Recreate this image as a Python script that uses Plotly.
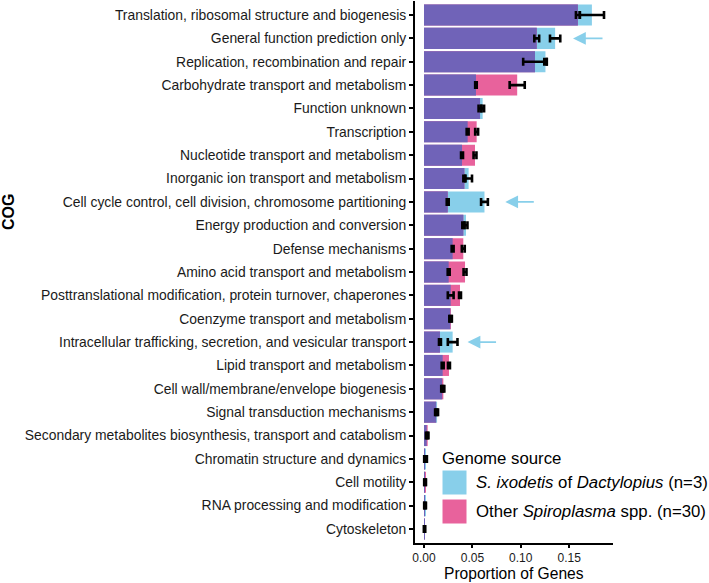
import numpy as np
import plotly.graph_objects as go

# COG categories, top to bottom
cog = [
    "Translation, ribosomal structure and biogenesis",
    "General function prediction only",
    "Replication, recombination and repair",
    "Carbohydrate transport and metabolism",
    "Function unknown",
    "Transcription",
    "Nucleotide transport and metabolism",
    "Inorganic ion transport and metabolism",
    "Cell cycle control, cell division, chromosome partitioning",
    "Energy production and conversion",
    "Defense mechanisms",
    "Amino acid transport and metabolism",
    "Posttranslational modification, protein turnover, chaperones",
    "Coenzyme transport and metabolism",
    "Intracellular trafficking, secretion, and vesicular transport",
    "Lipid transport and metabolism",
    "Cell wall/membrane/envelope biogenesis",
    "Signal transduction mechanisms",
    "Secondary metabolites biosynthesis, transport and catabolism",
    "Chromatin structure and dynamics",
    "Cell motility",
    "RNA processing and modification",
    "Cytoskeleton",
]

# S. ixodetis of Dactylopius (n=3): mean proportion and sd
ixo_mean = [0.1735, 0.1355, 0.1255, 0.0537, 0.0606, 0.0451, 0.0393, 0.0461,
            0.0625, 0.0434, 0.0296, 0.0255, 0.0276, 0.0272, 0.0296, 0.0193,
            0.0188, 0.0135, 0.0028, 0.0020, 0.0010, 0.0012, 0.0005]
ixo_sd = [0.0125, 0.0053, 0.0012, 0.0008, 0.0015, 0.0010, 0.0010, 0.0035,
          0.0035, 0.0015, 0.0010, 0.0010, 0.0030, 0.0010, 0.0050, 0.0010,
          0.0010, 0.0010, 0.0008, 0.0010, 0.0008, 0.0008, 0.0005]

# Other Spiroplasma spp. (n=30)
oth_mean = [0.1590, 0.1165, 0.1147, 0.0963, 0.0579, 0.0544, 0.0527, 0.0417,
            0.0245, 0.0406, 0.0406, 0.0424, 0.0372, 0.0278, 0.0165, 0.0258,
            0.0200, 0.0125, 0.0038, 0.0010, 0.0012, 0.0008, 0.0006]
oth_sd = [0.0020, 0.0025, 0.0122, 0.0078, 0.0015, 0.0015, 0.0015, 0.0010,
          0.0010, 0.0010, 0.0015, 0.0015, 0.0010, 0.0010, 0.0010, 0.0010,
          0.0010, 0.0010, 0.0008, 0.0008, 0.0008, 0.0006, 0.0005]

# arrows marking the categories enriched in S. ixodetis
arrow_cogs = ["General function prediction only",
              "Cell cycle control, cell division, chromosome partitioning",
              "Intracellular trafficking, secretion, and vesicular transport"]
arrow_tip = [0.154, 0.084, 0.045]
arrow_tail = [0.186, 0.115, 0.076]

BLUE = "#88CFEA"
PINK = "#E8629C"
PURPLE = "#7063B8"
FONT = "Liberation Sans, Arial, sans-serif"

W, H = 709, 583
ml, mr, mt, mb = 415, 96, 1, 40
pw, ph = W - ml - mr, H - mt - mb


def px(x):
    return (x - ml) / pw


def py(y):
    return 1 - (y - mt) / ph


overlap = np.minimum(ixo_mean, oth_mean)

fig = go.Figure()
fig.add_bar(y=cog, x=ixo_mean, orientation="h", marker_color=BLUE,
            marker_line_width=0, width=0.9, showlegend=False)
fig.add_bar(y=cog, x=oth_mean, orientation="h", marker_color=PINK,
            marker_line_width=0, width=0.9, showlegend=False)
fig.add_bar(y=cog, x=overlap, orientation="h", marker_color=PURPLE,
            marker_line_width=0, width=0.9, showlegend=False)

# error bars drawn on top of the bars
for m, sd in [(ixo_mean, ixo_sd), (oth_mean, oth_sd)]:
    fig.add_scatter(y=cog, x=m, mode="markers", marker=dict(size=1, opacity=0),
                    error_x=dict(type="data", array=sd, color="black",
                                 thickness=2.6, width=4),
                    showlegend=False, hoverinfo="skip")

for c, tip, tail in zip(arrow_cogs, arrow_tip, arrow_tail):
    fig.add_annotation(x=tip, y=c, ax=tail, ay=c, axref="x", ayref="y",
                       text="", showarrow=True, arrowhead=2, arrowsize=1.6,
                       arrowwidth=1.6, arrowcolor=BLUE)

# legend built by hand so the keys are large like ggplot's
legend_items = [("<i>S. ixodetis</i> of <i>Dactylopius</i> (n=3)", BLUE),
                ("Other <i>Spiroplasma</i> spp. (n=30)", PINK)]
fig.add_annotation(x=px(440), y=py(458), xref="paper", yref="paper",
                   text="Genome source", showarrow=False, xanchor="left",
                   yanchor="middle", font=dict(size=16.8, color="black", family=FONT))
for i, (lab, col) in enumerate(legend_items):
    y0 = 470 + i * 29
    fig.add_shape(type="rect", xref="paper", yref="paper",
                  x0=px(442), x1=px(467), y0=py(y0), y1=py(y0 + 25),
                  fillcolor=col, line=dict(color="white", width=1))
    fig.add_annotation(x=px(474), y=py(y0 + 12.5), xref="paper", yref="paper",
                       text=lab, showarrow=False, xanchor="left",
                       yanchor="middle", font=dict(size=16.8, color="black", family=FONT))

fig.add_annotation(x=px(9), y=py(212), xref="paper", yref="paper",
                   text="<b>COG</b>", textangle=-90, showarrow=False,
                   xanchor="center", yanchor="middle",
                   font=dict(size=16, color="black", family=FONT))
fig.add_annotation(x=px(514), y=py(573), xref="paper", yref="paper",
                   text="Proportion of Genes", showarrow=False,
                   xanchor="center", yanchor="middle", borderpad=0,
                   font=dict(size=15.6, color="black", family=FONT))

fig.update_layout(
    width=W, height=H,
    margin=dict(l=ml, r=mr, t=mt, b=mb),
    barmode="overlay",
    plot_bgcolor="white", paper_bgcolor="white",
    font=dict(family=FONT, size=12, color="black"),
)
fig.update_xaxes(range=[-0.0093, 0.1953], tickvals=[0, 0.05, 0.10, 0.15],
                 ticktext=["0.00", "0.05", "0.10", "0.15"],
                 showline=True, linecolor="black", linewidth=2,
                 ticks="outside", ticklen=3, tickwidth=1.5, tickcolor="black",
                 showgrid=False, zeroline=False, automargin=False,
                 tickfont=dict(size=12, color="#1a1a1a"))
fig.update_yaxes(categoryorder="array", categoryarray=cog,
                 range=[len(cog) - 0.4, -0.6],
                 showline=True, linecolor="black", linewidth=2,
                 ticks="outside", ticklen=4, tickwidth=1.5, tickcolor="black",
                 showgrid=False, zeroline=False, automargin=False,
                 tickfont=dict(size=13.9, color="#1a1a1a"))

# drop the page's default body margin so the figure fills the window
fig.write_html("out.html", config={"displayModeBar": False},
               post_script="document.body.style.margin='0';")
